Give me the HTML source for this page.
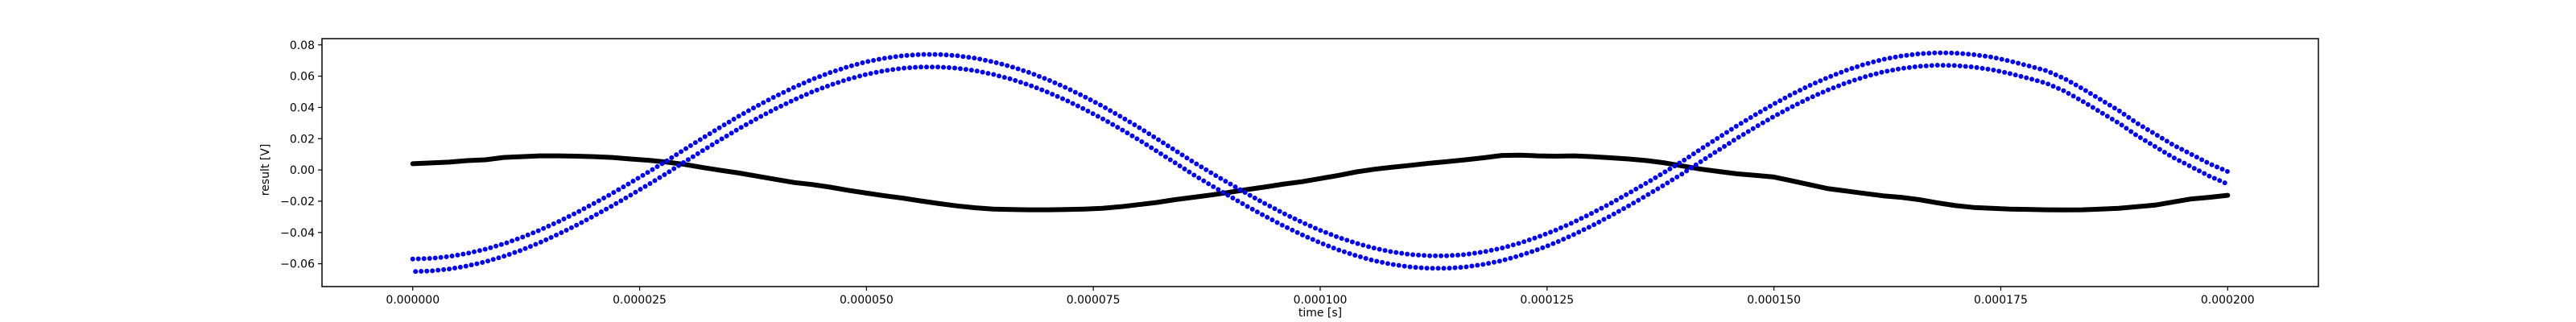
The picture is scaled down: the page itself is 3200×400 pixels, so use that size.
<!DOCTYPE html>
<html><head><meta charset="utf-8"><style>
html,body{margin:0;padding:0;background:#fff;}
svg{display:block;font-family:"DejaVu Sans","Liberation Sans",sans-serif;}
</style></head><body>
<svg id="chart" width="3200" height="400" viewBox="0 0 3200 400" xmlns="http://www.w3.org/2000/svg">
<rect x="0" y="0" width="3200" height="400" fill="#fff"/>
<g id="plot"></g>
<g id="axes"></g>
<text x="1640" y="393" font-size="14" text-anchor="middle">time [s]</text>
<text transform="translate(334,211) rotate(-90)" font-size="14" text-anchor="middle">result [V]</text>
</svg>
<script>
const timeUs=[0,2,4,6,8,10,12,14,16,18,20,22,24,26,28,30,32,34,36,38,40,42,44,46,48,50,52,54,56,58,60,62,64,66,68,70,72,74,76,78,80,82,84,86,88,90,92,94,96,98,100,102,104,106,108,110,112,114,116,118,120,122,124,126,128,130,132,134,136,138,140,142,144,146,148,150,152,154,156,158,160,162,164,166,168,170,172,174,176,178,180,182,184,186,188,190,192,194,196,198,200];
const blueUpper=[-.057,-.0566,-.0554,-.0534,-.0507,-.0473,-.0432,-.0385,-.0332,-.0275,-.0213,-.0149,-.0081,-.0012,.0059,.0133,.0206,.0277,.0346,.0411,.0472,.0528,.0579,.0623,.0661,.0692,.0715,.0731,.0739,.0739,.0731,.0715,.0691,.066,.0622,.0577,.0526,.0469,.0408,.0342,.0273,.02,.0126,.0051,-.0019,-.0087,-.0154,-.0218,-.0279,-.0335,-.0386,-.0431,-.0469,-.0501,-.0525,-.0541,-.0549,-.0549,-.0541,-.0524,-.05,-.0468,-.0429,-.0384,-.0332,-.0275,-.0214,-.0149,-.0082,-.0012,.0059,.0136,.0211,.0285,.0355,.0422,.0485,.0542,.0593,.0638,.0676,.0707,.0729,.0743,.075,.0748,.0738,.0722,.0697,.0667,.0635,.0585,.052,.045,.038,.03,.023,.016,.01,.004,-.001];
const blueLower=[-.065,-.0646,-.0634,-.0614,-.0587,-.0553,-.0512,-.0465,-.0412,-.0355,-.0293,-.0229,-.0161,-.0092,-.0021,.0053,.0126,.0197,.0266,.0331,.0392,.0448,.0499,.0543,.0581,.0612,.0635,.0651,.0659,.0659,.0651,.0635,.0611,.058,.0542,.0497,.0446,.0389,.0328,.0262,.0193,.012,.0046,-.0029,-.0099,-.0167,-.0234,-.0298,-.0359,-.0415,-.0466,-.0511,-.0549,-.0581,-.0605,-.0621,-.0629,-.0629,-.0621,-.0604,-.058,-.0548,-.0509,-.0464,-.0412,-.0355,-.0294,-.0229,-.0162,-.0092,-.0021,.0056,.0131,.0205,.0275,.0342,.0405,.0462,.0513,.0558,.0596,.0627,.0649,.0663,.067,.0668,.0658,.0642,.0617,.0587,.0555,.0505,.044,.037,.03,.022,.015,.008,.002,-.004,-.009];
const blackSeries=[.004,.0045,.005,.006,.0065,.008,.0085,.009,.009,.0088,.0085,.008,.007,.0062,.005,.0035,.0015,-.0003,-.002,-.004,-.006,-.008,-.0093,-.011,-.013,-.0148,-.0165,-.018,-.0198,-.0215,-.023,-.0242,-.025,-.0253,-.0255,-.0255,-.0253,-.025,-.0245,-.0235,-.0222,-.0208,-.019,-.0175,-.016,-.0143,-.0125,-.0108,-.009,-.0075,-.0055,-.0035,-.0012,.0005,.0018,.003,.0043,.0053,.0065,.0078,.0093,.0095,.009,.0088,.009,.0085,.0078,.007,.006,.0045,.0025,.0005,-.001,-.0025,-.0035,-.0045,-.007,-.0095,-.012,-.0135,-.015,-.0165,-.0175,-.019,-.021,-.0228,-.024,-.0245,-.025,-.0252,-.0255,-.0256,-.0255,-.025,-.0245,-.0235,-.0225,-.0205,-.0185,-.0175,-.0162];
const xTicks=[0,25,50,75,100,125,150,175,200];
const xTickLabels=["0.000000","0.000025","0.000050","0.000075","0.000100","0.000125","0.000150","0.000175","0.000200"];
const yTicks=[0.08,0.06,0.04,0.02,0,-0.02,-0.04,-0.06];
const yTickLabels=["0.08","0.06","0.04","0.02","0.00","\u22120.02","\u22120.04","\u22120.06"];

const L=400,R=2880,T=48,B=356;
const xMin=-10,xMax=210,yMin=-0.0746,yMax=0.0840;
function sx(t){return L+(t-xMin)/(xMax-xMin)*(R-L);}
function sy(v){return B-(v-yMin)/(yMax-yMin)*(B-T);}
const NS="http://www.w3.org/2000/svg";
const plot=document.getElementById('plot'),axes=document.getElementById('axes');
function mk(tag,attrs,parent){const e=document.createElementNS(NS,tag);for(const k in attrs)e.setAttribute(k,attrs[k]);parent.appendChild(e);return e;}
function pts(arr){return timeUs.map((t,i)=>sx(t).toFixed(1)+','+sy(arr[i]).toFixed(1)).join(' ');}

const blk=mk('polyline',{points:pts(blackSeries),fill:'none',stroke:'#000','stroke-width':6,'stroke-linejoin':'round','stroke-linecap':'round'},plot);


const bu=mk('polyline',{points:pts(blueUpper),fill:'none',stroke:'#0000ff','stroke-width':6,'stroke-linecap':'round','stroke-dasharray':'0 7'},plot);


const bl=mk('polyline',{points:pts(blueLower),fill:'none',stroke:'#0000ff','stroke-width':6,'stroke-linecap':'round','stroke-dasharray':'0 7','stroke-dashoffset':3.5},plot);



const frame=mk('rect',{x:L,y:T,width:R-L,height:B-T,fill:'none',stroke:'#000','stroke-width':1.5},axes);


xTicks.forEach((t,i)=>{
  const x=sx(t);
  const tk=mk('line',{x1:x,y1:B,x2:x,y2:B+5,stroke:'#000','stroke-width':1.2},axes);
  
  
  const lb=mk('text',{x:x,y:B+21,'font-size':14,'text-anchor':'middle'},axes);
  lb.textContent=xTickLabels[i];
  
  
});
yTicks.forEach((v,i)=>{
  const y=sy(v);
  const tk=mk('line',{x1:L-5,y1:y,x2:L,y2:y,stroke:'#000','stroke-width':1.2},axes);
  
  
  const lb=mk('text',{x:L-9,y:y+5,'font-size':14,'text-anchor':'end'},axes);
  lb.textContent=yTickLabels[i];
  
  
});
</script>
</body></html>
